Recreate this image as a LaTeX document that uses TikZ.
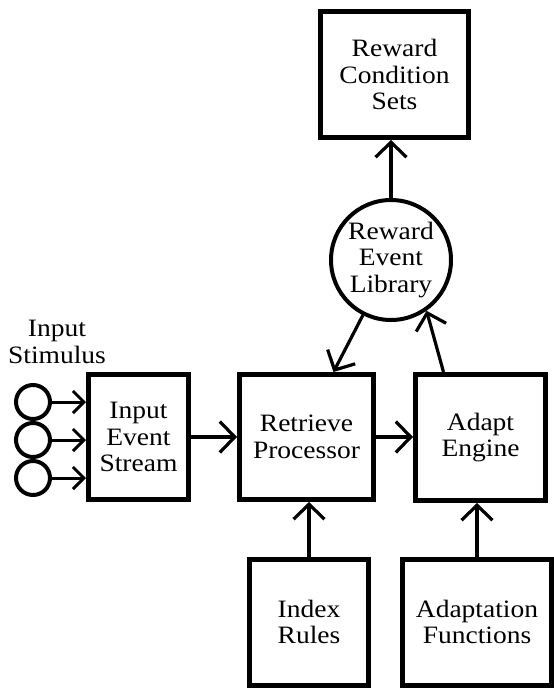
\documentclass[tikz,border=0pt]{standalone}
\usepackage{fontspec}
\setmainfont{Liberation Serif}[FakeStretch=1.1]
\usetikzlibrary{arrows.meta,calc}
\tikzset{
  box/.style={draw, line width=5pt, align=center, inner sep=0pt, rectangle},
  lib/.style={draw, line width=4pt, circle, align=center, inner sep=0pt, minimum size=120pt},
  stim/.style={draw, line width=4pt, circle, inner sep=0pt, minimum size=34pt},
  conn/.style={line width=3.2pt, -{Straight Barb[length=15pt,width=31pt]}},
  sconn/.style={line width=3pt, -{Straight Barb[length=11pt,width=22pt]}},
  lbl/.style={align=center, inner sep=0pt}
}
\begin{document}
\begin{tikzpicture}[x=1pt,y=-1pt,font=\fontsize{25}{26.5}\selectfont]
\useasboundingbox (0,0) rectangle (554,688);
\node[box, minimum width=148pt, minimum height=126pt] (rcs) at (394.5,74.5) {Reward\\Condition\\Sets};
\node[lib] (rel) at (391,260) {Reward\\Event\\Library};
\node[box, minimum width=100pt, minimum height=125pt] (ies) at (138.5,437) {Input\\Event\\Stream};
\node[box, minimum width=134pt, minimum height=125pt] (ret) at (306.5,437) {Retrieve\\Processor};
\node[box, minimum width=130pt, minimum height=126pt] (ada) at (480.5,437.5) {Adapt\\Engine};
\node[box, minimum width=119pt, minimum height=126pt] (idx) at (309,622) {Index\\Rules};
\node[box, minimum width=149pt, minimum height=126pt] (adf) at (477,622) {Adaptation\\Functions};
\node[lbl] (stimlbl) at (57,342) {Input\\Stimulus};
\node[stim] (s1) at (33,402) {};
\node[stim] (s2) at (33,440) {};
\node[stim] (s3) at (33,478) {};
\draw[sconn] (s1.east) -- (s1.east -| ies.west);
\draw[sconn] (s2.east) -- (s2.east -| ies.west);
\draw[sconn] (s3.east) -- (s3.east -| ies.west);
\draw[conn] (ies.east) -- (ies.east -| ret.west);
\draw[conn] (ret.east) -- (ret.east -| ada.west);
\draw[conn] (idx.north) -- (idx.north |- ret.south);
\draw[conn] (adf.north) -- (adf.north |- ada.south);
\draw[conn] (rel.north) -- (rel.north |- rcs.south);
\coordinate (retin) at ($(ret.north)+(27,0)$);
\coordinate (adaout) at ($(ada.north)+(-37,0)$);
\draw[conn] (rel.243) -- (retin);
\draw[conn] (adaout) -- (rel.305);
\end{tikzpicture}
\end{document}
